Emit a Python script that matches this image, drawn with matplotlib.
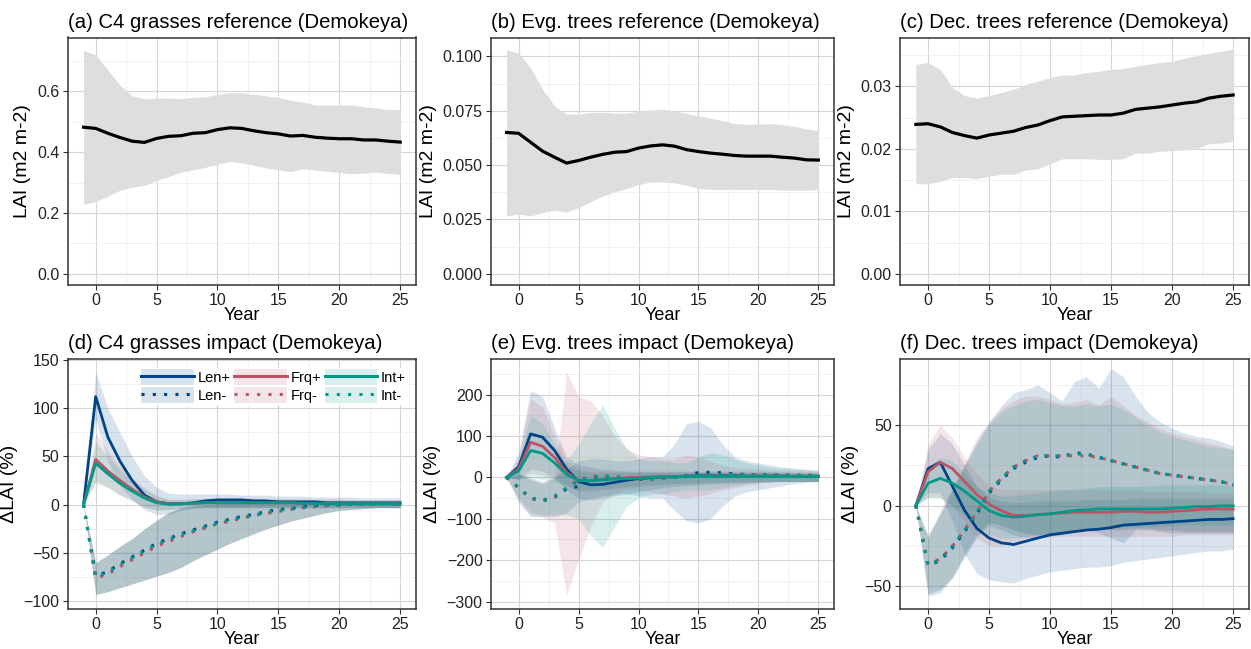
import numpy as np
import matplotlib
matplotlib.use("Agg")
from matplotlib import pyplot as plt
from matplotlib.patches import Patch
from matplotlib.lines import Line2D
from matplotlib.ticker import MultipleLocator, FormatStrFormatter

plt.rcParams['font.family'] = ['Liberation Sans', 'DejaVu Sans']

years = np.arange(-1, 26)

# ---- reference LAI (mean and spread) ----
c4_mean = [0.482, 0.478, 0.462, 0.448, 0.436, 0.432, 0.445, 0.452, 0.454, 0.462, 0.464, 0.474, 0.480, 0.478,
           0.470, 0.464, 0.460, 0.453, 0.455, 0.449, 0.446, 0.444, 0.444, 0.440, 0.440, 0.436, 0.433]
c4_hi = [0.735, 0.72, 0.67, 0.62, 0.585, 0.575, 0.578, 0.578, 0.576, 0.58, 0.582, 0.59, 0.595, 0.595,
         0.59, 0.585, 0.58, 0.57, 0.565, 0.555, 0.555, 0.555, 0.555, 0.55, 0.545, 0.54, 0.54]
c4_lo = [0.228, 0.237, 0.255, 0.275, 0.285, 0.291, 0.307, 0.32, 0.334, 0.342, 0.35, 0.36, 0.369, 0.365,
         0.356, 0.348, 0.342, 0.336, 0.345, 0.341, 0.337, 0.333, 0.329, 0.331, 0.334, 0.33, 0.327]

evg_mean = [0.065, 0.0646, 0.0605, 0.0564, 0.0536, 0.0509, 0.0521, 0.0536, 0.0549, 0.0559, 0.0562, 0.0578, 0.0588,
            0.0593, 0.0587, 0.0571, 0.0562, 0.0555, 0.055, 0.0544, 0.0541, 0.0541, 0.0541, 0.0536, 0.0532, 0.0524, 0.0523]
evg_hi = [0.103, 0.1015, 0.0947, 0.0848, 0.0772, 0.0734, 0.0734, 0.0742, 0.0742, 0.0739, 0.0738, 0.0749, 0.0754,
          0.0757, 0.0749, 0.0738, 0.0726, 0.0716, 0.0704, 0.0691, 0.0688, 0.0688, 0.0691, 0.0685, 0.0678, 0.0666, 0.0658]
evg_lo = [0.0266, 0.0275, 0.0266, 0.0281, 0.0293, 0.0283, 0.0305, 0.0331, 0.0357, 0.0377, 0.0392, 0.041, 0.0422,
          0.0422, 0.0418, 0.0407, 0.0392, 0.0388, 0.0388, 0.0388, 0.0388, 0.0388, 0.0388, 0.0384, 0.0384, 0.0384, 0.0388]

dec_mean = [0.0239, 0.024, 0.0235, 0.0226, 0.0221, 0.0217, 0.0222, 0.0225, 0.0228, 0.0234, 0.0238, 0.0245, 0.0251,
            0.0252, 0.0253, 0.0254, 0.0254, 0.0257, 0.0263, 0.0265, 0.0267, 0.027, 0.0273, 0.0275, 0.0281, 0.0284, 0.0286]
dec_hi = [0.0335, 0.0338, 0.0327, 0.0298, 0.0285, 0.0281, 0.0285, 0.029, 0.0295, 0.0303, 0.0308, 0.0314, 0.0318,
          0.0318, 0.0322, 0.0324, 0.0327, 0.0328, 0.0332, 0.0335, 0.0338, 0.034, 0.0345, 0.0349, 0.0353, 0.0356, 0.0359]
dec_lo = [0.0144, 0.0144, 0.0148, 0.0154, 0.0154, 0.0152, 0.0156, 0.0159, 0.0159, 0.0166, 0.0168, 0.0176, 0.0184,
          0.0184, 0.0184, 0.0183, 0.0183, 0.0184, 0.0193, 0.0193, 0.0196, 0.0197, 0.0198, 0.02, 0.0208, 0.0209, 0.0212]

# ---- impacts (% change in LAI), per scenario: mean, upper, lower ----
# C4 grasses
d_lenp = [0, 112, 70, 45, 25, 10, 3, 1, 1, 2, 4, 5, 5, 5, 4, 4, 3, 3, 3, 3, 2, 2, 2, 2, 2, 2, 2]
d_lenp_hi = [0, 137, 100, 75, 50, 30, 18, 12, 11, 11, 11, 11, 11, 10, 10, 10, 9, 9, 9, 8, 8, 8, 8, 7, 7, 7, 7]
d_lenp_lo = [0, 88, 45, 20, 5, -5, -10, -10, -6, -4, -3, -3, -3, -3, -3, -3, -3, -3, -3, -3, -3, -3, -3, -3, -3, -3, -3]
d_frqp = [0, 47, 35, 25, 16, 8, 3, 1, 1, 1.5, 2, 2, 2, 2, 2, 2, 2, 2, 1.5, 1.5, 1.5, 1, 1, 1, 1, 1, 1]
d_frqp_hi = [0, 75, 55, 40, 28, 18, 10, 6, 6, 6, 7, 7, 7, 7, 7, 6, 6, 6, 6, 6, 6, 6, 5, 5, 5, 5, 5]
d_frqp_lo = [0, 22, 18, 10, 5, -3, -6, -5, -4, -3, -3, -3, -3, -3, -3, -3, -3, -3, -3, -3, -3, -3, -3, -3, -3, -3, -3]
d_intp = [0, 43, 32, 22, 14, 7, 2, 0.5, 1, 1.5, 2, 2, 2, 2, 2, 2, 2, 2, 1.5, 1.5, 1, 1, 1, 1, 1, 1, 0.5]
d_intp_hi = [0, 65, 50, 36, 25, 16, 9, 5, 5, 6, 6, 6, 6, 6, 6, 6, 6, 6, 5, 5, 5, 5, 5, 5, 5, 5, 5]
d_intp_lo = [0, 25, 18, 10, 4, -2, -5, -5, -4, -3, -3, -3, -3, -3, -3, -3, -3, -3, -3, -3, -3, -3, -3, -3, -3, -3, -3]
d_lenm = [0, -74, -69, -61, -54, -47, -40, -35, -30, -26, -22, -18, -15, -12, -10, -7, -5, -4, -2, -1, 0, 0, 0.5, 1, 1,
          1, 1]
d_frqm = [0, -76, -72, -64, -57, -50, -43, -38, -33, -28, -24, -20, -17, -14, -11, -9, -7, -5, -3, -2, -1, 0, 0.5, 1, 1,
          1.5, 2]
d_intm = [0, -75, -70, -62, -55, -48, -41, -36, -31, -27, -23, -19, -16, -13, -11, -8, -6, -4, -3, -1, 0, 0, 0.5, 1, 1,
          1, 1]
d_minus_hi = [0, -60, -52, -43, -35, -25, -16, -8, -3, -1, 0, 1, 2, 2, 3, 3, 3, 3, 3, 3, 3, 3, 3, 3, 3, 3, 3]
d_minus_lo = [0, -93, -90, -86, -82, -78, -74, -70, -65, -58, -52, -46, -40, -35, -30, -25, -21, -17, -14, -11, -8,
              -6, -5, -4, -3, -3, -3]

# Evergreen trees
e_lenp = [0, 25, 105, 97, 65, 20, -10, -18, -17, -12, -7, -3, -1, 1, 2, 3, 4, 4, 4, 4, 3, 3, 3, 3, 2, 2, 2]
e_lenp_hi = [0, 60, 210, 195, 120, 50, 30, 25, 20, 18, 15, 15, 15, 15, 15, 15, 15, 15, 15, 15, 15, 15, 14, 13, 12, 11, 10]
e_lenp_lo = [0, -5, 20, 15, 0, -30, -50, -55, -50, -45, -40, -35, -30, -25, -22, -20, -18, -16, -15, -14, -13, -12,
             -11, -10, -10, -10, -10]
e_frqp = [0, 20, 85, 75, 48, 12, -8, -8, -5, -3, -1, 0, 1, 2, 2, 3, 3, 3, 3, 3, 3, 3, 3, 3, 3, 3, 3]
e_frqp_hi = [0, 50, 190, 170, 100, 40, 20, 15, 15, 14, 13, 13, 13, 13, 13, 13, 13, 13, 13, 13, 12, 12, 12, 11, 11, 10, 10]
e_frqp_lo = [0, -5, 10, 5, -5, -20, -35, -35, -30, -28, -25, -22, -20, -18, -16, -15, -14, -13, -12, -12, -11, -11,
             -10, -10, -10, -10, -10]
e_intp = [0, 15, 65, 58, 35, 7, -7, -8, -6, -4, -3, -2, 0, 1, 1, 2, 2, 2, 2, 2, 2, 2, 2, 2, 2, 2, 2]
e_intp_hi = [0, 40, 150, 130, 80, 30, 15, 12, 12, 12, 12, 12, 12, 12, 12, 12, 12, 12, 12, 12, 11, 11, 11, 10, 10, 10, 10]
e_intp_lo = [0, -5, 0, -5, -10, -20, -30, -30, -28, -25, -22, -20, -18, -16, -15, -14, -13, -12, -12, -11, -11, -10,
             -10, -10, -10, -10, -10]
e_lenm = [0, -25, -50, -57, -48, -28, -22, -2, 2, 0, -3, -5, -4, -2, 0, 4, 12, 12, 11, 8, 7, 6, 6, 5, 5, 5, 4]
e_lenm_hi = [0, 10, 0, -10, 0, 20, 40, 45, 45, 40, 40, 45, 50, 50, 80, 130, 135, 120, 80, 50, 40, 35, 30, 25, 22, 20, 18]
e_lenm_lo = [0, -60, -95, -95, -95, -85, -60, -50, -45, -40, -40, -45, -50, -50, -80, -105, -110, -100, -70, -45, -35,
             -30, -25, -20, -15, -12, -10]
e_frqm = [0, -25, -52, -56, -46, -25, -5, 2, 4, 1, -2, -3, -3, -2, 0, 2, 4, 5, 6, 6, 6, 6, 6, 5, 5, 5, 5]
e_frqm_hi = [0, 10, -5, -15, 0, 255, 195, 185, 150, 100, 70, 55, 50, 45, 45, 55, 50, 40, 30, 25, 22, 20, 18, 16, 15, 15, 14]
e_frqm_lo = [0, -55, -90, -95, -110, -285, -200, -120, -60, -40, -30, -30, -35, -40, -45, -50, -45, -40, -30, -25, -20,
             -15, -12, -10, -10, -10, -10]
e_intm = [0, -24, -50, -55, -46, -26, -8, 0, 3, 2, -1, -4, -3, -2, 0, 3, 5, 6, 7, 7, 7, 6, 6, 6, 5, 5, 5]
e_intm_hi = [0, 10, -5, -15, -5, 40, 80, 130, 175, 120, 70, 45, 40, 40, 35, 35, 50, 60, 55, 45, 35, 30, 25, 22, 20, 18, 15]
e_intm_lo = [0, -50, -85, -90, -90, -90, -100, -140, -170, -120, -70, -50, -40, -40, -35, -30, -30, -30, -25, -20, -15,
             -12, -10, -10, -10, -10, -10]

# Deciduous trees
f_lenp = [0, 23, 27, 12, -3, -14, -20, -23, -24, -22, -20, -18, -17, -16, -15, -14.5, -13.5, -12, -11.5, -11, -10.5,
          -10, -9.5, -9, -8.5, -8.5, -8]
f_lenp_hi = [0, 35, 45, 38, 25, 12, 5, 3, 2, 2, 3, 3, 3, 3, 4, 4, 4, 4, 5, 5, 5, 5, 5, 5, 5, 5, 5]
f_lenp_lo = [0, 8, 8, -10, -30, -42, -46, -47, -48, -45, -43, -41, -40, -39, -38, -38, -37, -35, -34, -33, -32, -31,
             -30, -29, -28, -28, -27]
f_frqp = [0, 21, 27, 23, 15, 7, 1, -3, -6, -6, -5.5, -5, -4.5, -4, -4, -4, -4, -3.5, -3.5, -4, -4, -3.5, -3, -2.5, -2,
          -2, -2]
f_frqp_hi = [0, 38, 50, 42, 30, 20, 12, 10, 10, 10, 10, 10, 10, 10, 10, 10, 10, 10, 10, 9, 9, 9, 9, 9, 8, 8, 8]
f_frqp_lo = [0, 5, 5, 0, -10, -20, -25, -25, -22, -20, -20, -19, -19, -19, -19, -19, -19, -19, -19, -19, -19, -19,
             -18, -18, -18, -18, -18]
f_intp = [0, 14, 17, 14, 9, 3, -3, -6, -7, -6.5, -5.5, -5, -4, -3, -2.5, -2, -2, -2, -2, -2, -2, -1.5, -1, -0.5, -0.5,
          0, 0]
f_intp_hi = [0, 25, 30, 28, 20, 12, 8, 6, 6, 7, 8, 9, 10, 10, 11, 12, 12, 12, 12, 12, 13, 13, 13, 13, 13, 13, 13]
f_intp_lo = [0, 5, 5, 0, -5, -12, -18, -20, -20, -19, -18, -17, -16, -15, -14, -14, -14, -13, -13, -13, -13, -12, -12,
             -12, -12, -12, -12]
f_lenm = [0, -37, -34, -26, -16, -5, 8, 16, 23, 27, 30, 31, 30, 33, 32, 30, 28, 26, 24, 22, 20, 19, 18, 17, 16, 15, 13]
f_frqm = [0, -36, -33, -25, -15, -4, 9, 17, 24, 28, 31, 31, 31, 31, 31, 30, 28, 26, 24, 22, 20, 19, 18, 17, 16, 15, 13]
f_intm = [0, -37, -33, -25, -15, -4, 9, 17, 24, 28, 31, 31, 31, 32, 32, 30, 28, 26, 24, 22, 20, 19, 18, 17, 16, 15, 13]
f_lenm_hi = [0, -20, -5, 10, 25, 40, 52, 62, 70, 72, 75, 70, 65, 77, 80, 73, 85, 80, 68, 58, 52, 48, 45, 43, 42, 40, 37]
f_lenm_lo = [0, -56, -54, -45, -32, -20, -12, -15, -18, -20, -20, -19, -18, -16, -15, -17, -20, -23, -15, -15, -16,
             -17, -17, -17, -17, -17, -17]
f_frqm_hi = [0, -19, -3, 12, 27, 42, 52, 60, 65, 68, 68, 66, 63, 64, 66, 62, 68, 62, 56, 52, 48, 45, 43, 41, 39, 37, 35]
f_frqm_lo = [0, -55, -52, -44, -30, -18, -10, -12, -15, -17, -18, -17, -16, -15, -14, -14, -15, -15, -14, -14, -15,
             -15, -16, -16, -16, -16, -16]
f_intm_hi = [0, -18, -5, 10, 25, 38, 50, 58, 62, 65, 66, 64, 62, 62, 63, 62, 63, 60, 55, 50, 46, 43, 41, 39, 37, 36, 35]
f_intm_lo = [0, -54, -52, -44, -30, -18, -10, -12, -15, -17, -18, -17, -16, -15, -14, -14, -15, -15, -14, -14, -15,
             -15, -16, -16, -16, -16, -16]

c_len, c_frq, c_int = "#004488", "#BB5566", "#009988"
labels = ["Len+", "Len-", "Frq+", "Frq-", "Int+", "Int-"]

W, H = 1251, 649
fig = plt.figure(figsize=(W / 100, H / 100), dpi=100)


def make_ax(l, r, t, b):
    ax = fig.add_axes([l / W, 1 - b / H, (r - l) / W, (b - t) / H])
    ax.set_facecolor("white")
    ax.set_xlim(-2.3, 26.3)
    ax.xaxis.set_major_locator(MultipleLocator(5))
    ax.xaxis.set_minor_locator(MultipleLocator(2.5))
    ax.grid(True, which="major", color="#d6d6d6", lw=0.8)
    ax.grid(True, which="minor", color="#ececec", lw=0.5)
    ax.set_axisbelow(True)
    for s in ax.spines.values():
        s.set_color("#333333")
        s.set_linewidth(1.1)
    ax.tick_params(which="major", length=3.5, width=0.8, color="#333333", labelsize=11.5, labelcolor="#222222",
                   pad=2.5)
    ax.tick_params(which="minor", length=0)
    ax.set_xlabel("Year", fontsize=13, labelpad=-1)
    return ax


cols_x = [(67.7, 416), (491, 834), (900, 1249)]
top_row = (37.5, 285)
bot_row = (359, 609)

# Reference panels
ref = [
    ("(a) C4 grasses reference (Demokeya)", c4_mean, c4_hi, c4_lo, (-0.037, 0.777), 0.2, 0.1, "%.1f"),
    ("(b) Evg. trees reference (Demokeya)", evg_mean, evg_hi, evg_lo, (-0.0052, 0.1087), 0.025, 0.0125, "%.3f"),
    ("(c) Dec. trees reference (Demokeya)", dec_mean, dec_hi, dec_lo, (-0.0018, 0.0378), 0.01, 0.005, "%.2f"),
]
for (l, r), (title, m, hi, lo, ylim, maj, mnr, fmt) in zip(cols_x, ref):
    ax = make_ax(l, r, *top_row)
    ax.fill_between(years, lo, hi, color="#dedede", lw=0)
    ax.plot(years, m, color="black", lw=2.3)
    ax.set_ylim(*ylim)
    ax.yaxis.set_major_locator(MultipleLocator(maj))
    ax.yaxis.set_minor_locator(MultipleLocator(mnr))
    ax.yaxis.set_major_formatter(FormatStrFormatter(fmt))
    ax.set_ylabel("LAI (m2 m-2)", fontsize=14, labelpad=4)
    ax.set_title(title, loc="left", fontsize=14.6, pad=7)

# Impact panels
dot = (0, (1, 2.7))
impact = [
    ("(d) C4 grasses impact (Demokeya)", (-108, 151), 50, 25, [
        (c_len, d_lenp, d_lenp_hi, d_lenp_lo, "-"), (c_len, d_lenm, d_minus_hi, d_minus_lo, dot),
        (c_frq, d_frqp, d_frqp_hi, d_frqp_lo, "-"), (c_frq, d_frqm, d_minus_hi, d_minus_lo, dot),
        (c_int, d_intp, d_intp_hi, d_intp_lo, "-"), (c_int, d_intm, d_minus_hi, d_minus_lo, dot)]),
    ("(e) Evg. trees impact (Demokeya)", (-318, 286), 100, 50, [
        (c_len, e_lenp, e_lenp_hi, e_lenp_lo, "-"), (c_len, e_lenm, e_lenm_hi, e_lenm_lo, dot),
        (c_frq, e_frqp, e_frqp_hi, e_frqp_lo, "-"), (c_frq, e_frqm, e_frqm_hi, e_frqm_lo, dot),
        (c_int, e_intp, e_intp_hi, e_intp_lo, "-"), (c_int, e_intm, e_intm_hi, e_intm_lo, dot)]),
    ("(f) Dec. trees impact (Demokeya)", (-64, 91), 50, 25, [
        (c_len, f_lenp, f_lenp_hi, f_lenp_lo, "-"), (c_len, f_lenm, f_lenm_hi, f_lenm_lo, dot),
        (c_frq, f_frqp, f_frqp_hi, f_frqp_lo, "-"), (c_frq, f_frqm, f_frqm_hi, f_frqm_lo, dot),
        (c_int, f_intp, f_intp_hi, f_intp_lo, "-"), (c_int, f_intm, f_intm_hi, f_intm_lo, dot)]),
]
for k, ((l, r), (title, ylim, maj, mnr, series)) in enumerate(zip(cols_x, impact)):
    ax = make_ax(l, r, *bot_row)
    for col, m, hi, lo, ls in series:
        ax.fill_between(years, lo, hi, color=col, alpha=0.15, lw=0)
    handles = []
    for (col, m, hi, lo, ls), lab in zip(series, labels):
        if ls == "-":
            ax.plot(years, m, color=col, lw=2.0, ls="-")
        else:
            ax.plot(years, m, color=col, lw=2.2, ls=ls)
        handles.append((Patch(facecolor=col, alpha=0.15, edgecolor="none"),
                        Line2D([], [], color=col, lw=2.2, ls=ls)))
    ax.set_ylim(*ylim)
    ax.yaxis.set_major_locator(MultipleLocator(maj))
    ax.yaxis.set_minor_locator(MultipleLocator(mnr))
    ax.set_ylabel("\u0394LAI (%)", fontsize=14, labelpad=4)
    ax.set_title(title, loc="left", fontsize=14.6, pad=7)
    if k == 0:
        ax.legend(handles, labels, ncol=3, loc="upper right", bbox_to_anchor=(0.975, 0.965),
                  frameon=True, facecolor="white", edgecolor="none", framealpha=1, fancybox=False,
                  prop={"size": 10.5}, handlelength=3.6, handleheight=1.3,
                  columnspacing=0.25, handletextpad=0.25, labelspacing=0.15, borderpad=0.1,
                  borderaxespad=0.0)

fig.savefig("out.png", dpi=100)
